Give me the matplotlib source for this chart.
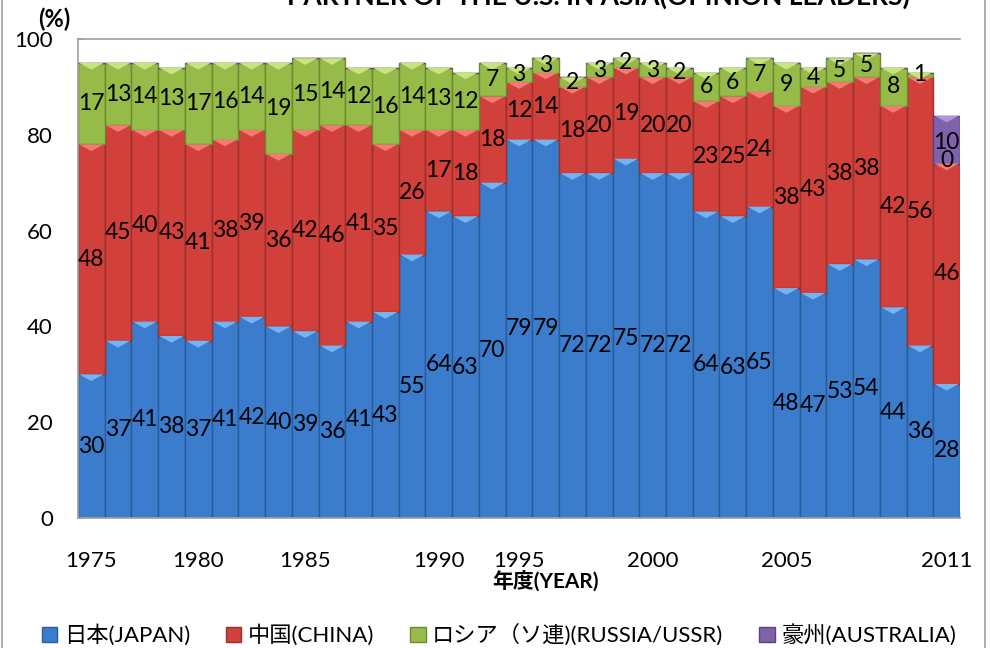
import numpy as np
import matplotlib.pyplot as plt
from matplotlib.patches import Patch, Polygon, Rectangle

plt.rcParams['font.family'] = ['Lato', 'Noto Sans CJK JP', 'DejaVu Sans']

# survey rounds (33 bars), only some years are labelled on the axis
tick_pos = [0, 4, 8, 13, 16, 21, 26, 32]
tick_years = ['1975', '1980', '1985', '1990', '1995', '2000', '2005', '2011']

japan = [30, 37, 41, 38, 37, 41, 42, 40, 39, 36, 41, 43, 55, 64, 63, 70, 79,
         79, 72, 72, 75, 72, 72, 64, 63, 65, 48, 47, 53, 54, 44, 36, 28]
china = [48, 45, 40, 43, 41, 38, 39, 36, 42, 46, 41, 35, 26, 17, 18, 18, 12,
         14, 18, 20, 19, 20, 20, 23, 25, 24, 38, 43, 38, 38, 42, 56, 46]
russia = [17, 13, 14, 13, 17, 16, 14, 19, 15, 14, 12, 16, 14, 13, 12, 7, 3,
          3, 2, 3, 2, 3, 2, 6, 6, 7, 9, 4, 5, 5, 8, 1, 0]
australia = [0] * 32 + [10]

names = ['日本(JAPAN)', '中国(CHINA)', 'ロシア（ソ連)(RUSSIA/USSR)', '豪州(AUSTRALIA)']
faces = ['#3B7DCC', '#D2403B', '#97BB48', '#8062AC']
edges = ['#2B5C9A', '#98302C', '#6A8A30', '#5B4382']
tops = ['#74B4F2', '#F27C74', '#C8E47E', '#AE94D8']

fig = plt.figure(figsize=(9.97, 6.48), dpi=100)
ax = fig.add_axes([78 / 997, 1 - 518 / 648, 882 / 997, 479 / 648])

x = np.arange(len(japan))
bottom = np.zeros(len(japan))
for k, (vals, fc, ec, tc) in enumerate(zip([japan, china, russia, australia], faces, edges, tops)):
    vals = np.array(vals, dtype=float)
    ax.bar(x, vals, width=1.0, bottom=bottom, color=fc, edgecolor=ec,
           linewidth=1.0, zorder=2)
    for xi, b, v in zip(x, bottom, vals):
        if v <= 0:
            continue
        top = b + v
        # light bevel on top of each block
        ax.add_patch(Polygon([[xi - 0.46, top], [xi + 0.46, top], [xi, top - 1.4]],
                             closed=True, color=tc, zorder=3, lw=0))
        lab = str(int(v))
        yy = b + v / 2
        if k == 3:
            lab = '10\n0'  # label wraps in the original
            yy = b + v / 2 - 2.5
        ax.text(xi, yy, lab, ha='center', va='center', fontsize=16.5, zorder=4,
                color='black', linespacing=0.85)
    bottom = bottom + vals

ax.set_xlim(-0.5, len(japan) - 0.5)
ax.set_ylim(0, 100)
ax.set_yticks(np.arange(0, 101, 20))
ax.set_xticks(tick_pos)
ax.set_xticklabels(tick_years)
ax.set_xticks(np.arange(-0.5, len(japan), 1.0), minor=True)
ax.tick_params(axis='x', which='major', length=0, pad=24, labelsize=16)
ax.tick_params(axis='x', which='minor', direction='in', length=4, color='#D0D0D0')
ax.tick_params(axis='y', direction='in', length=4, color='#A0A0A0', pad=18,
               labelsize=16)
for s in ['top', 'left', 'bottom']:
    ax.spines[s].set_color('#A0A0A0')
    ax.spines[s].set_linewidth(1.2)
ax.spines['right'].set_visible(False)

fig.text(598 / 997, 1 - 9 / 648, 'PARTNER OF THE U.S. IN ASIA(OPINION LEADERS)',
         ha='center', va='bottom', fontsize=19, fontweight='bold')
fig.text(54 / 997, 1 - 19 / 648, '(%)', ha='center', va='center', fontsize=17,
         fontweight='bold')
fig.text(545 / 997, 1 - 582 / 648, '年度(YEAR)', ha='center', va='center',
         fontsize=15, fontweight='bold')

handles = [Patch(facecolor=fc, edgecolor=ec) for fc, ec in zip(faces, edges)]
fig.legend(handles, names, loc='center', bbox_to_anchor=(499 / 997, 1 - 635 / 648),
           ncol=4, frameon=False, fontsize=16, handlelength=0.7, handleheight=0.7,
           handletextpad=0.3, columnspacing=1.6)

fig.add_artist(Rectangle((2 / 997, -0.01), 983 / 997, 1.05, transform=fig.transFigure,
                         fill=False, edgecolor='#A0A0A0', lw=1.2))

fig.savefig('out.png', dpi=100, facecolor='white')
